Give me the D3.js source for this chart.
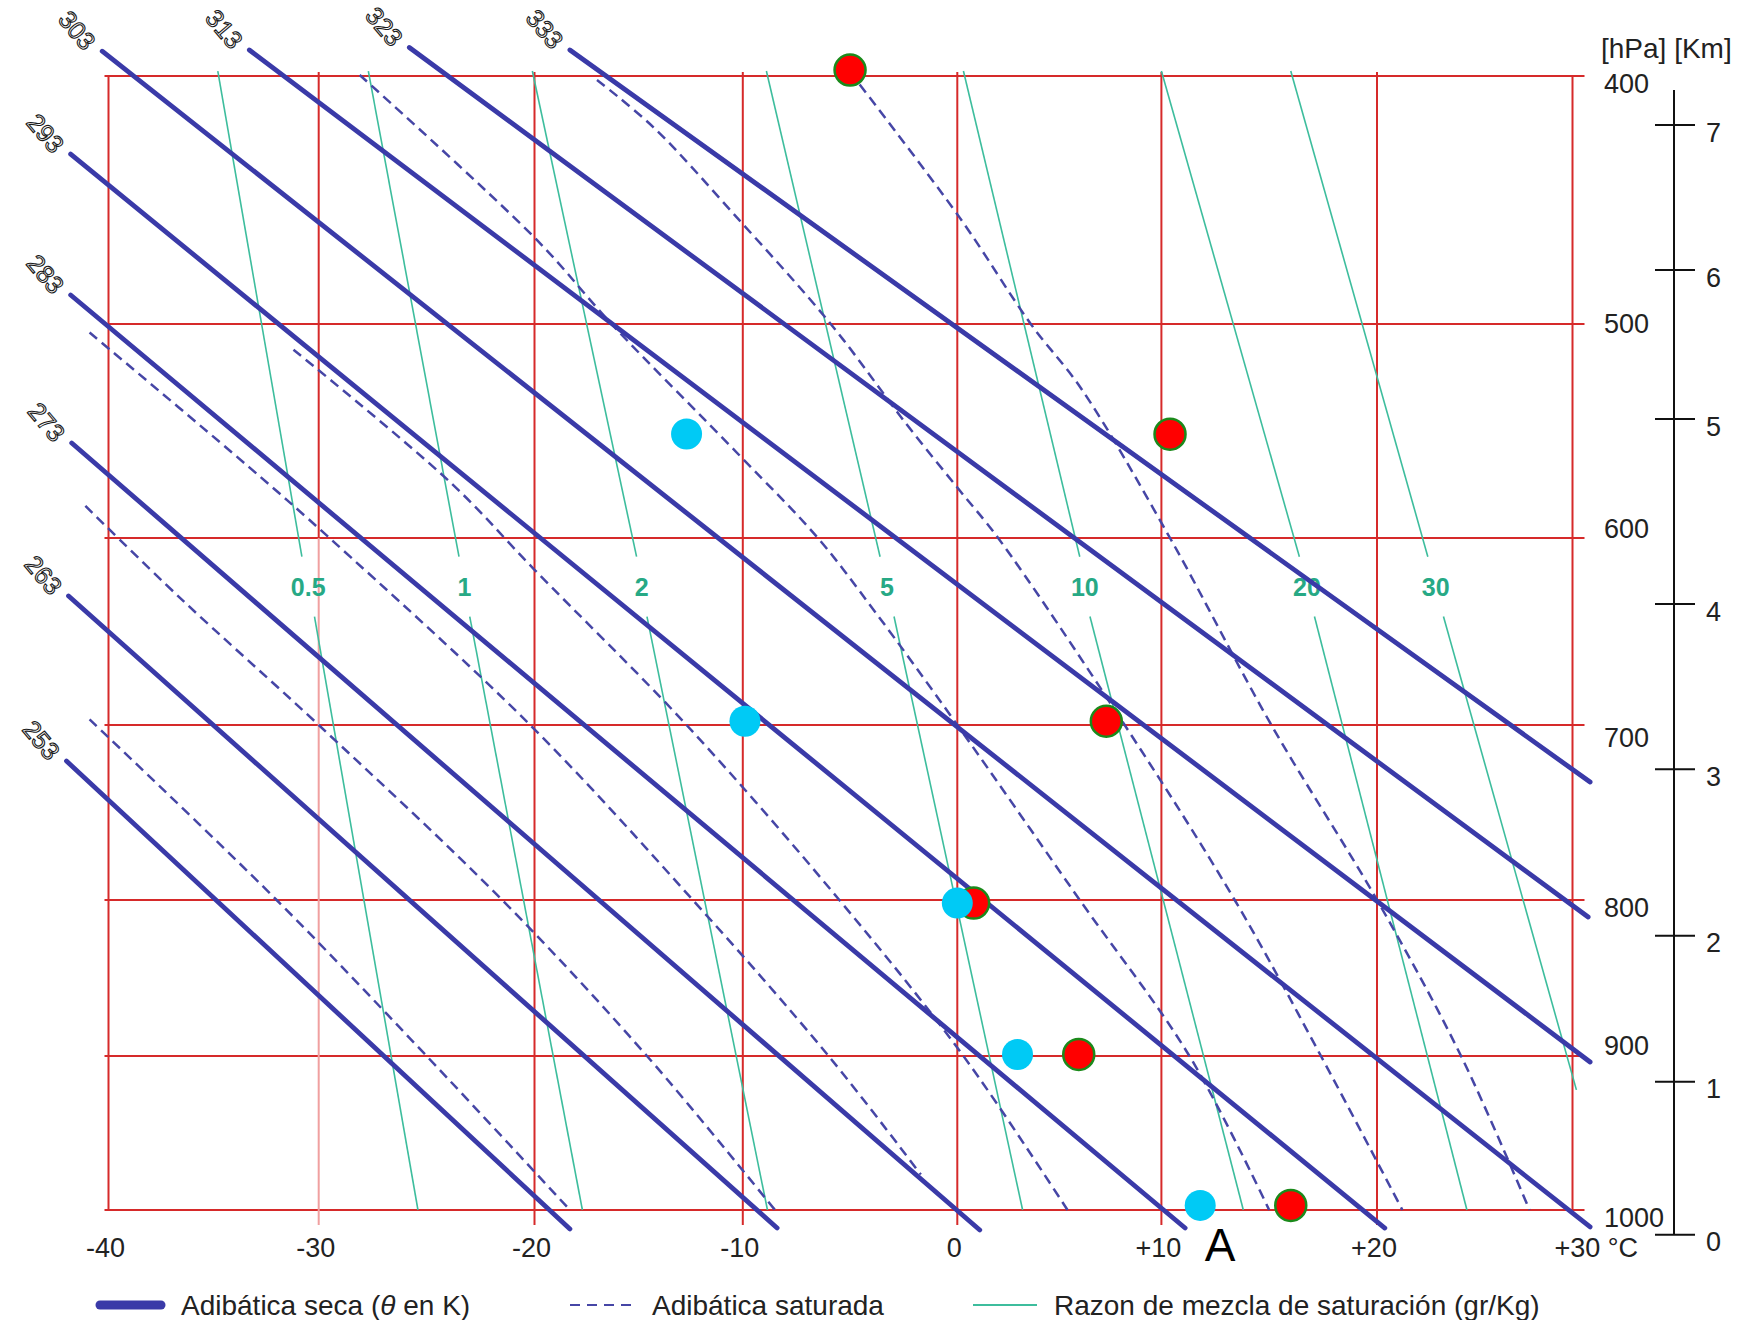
<!DOCTYPE html>
<html><head><meta charset="utf-8">
<script src="https://cdn.jsdelivr.net/npm/d3@7"></script>
<style>
html,body{margin:0;padding:0;background:#fff;}
svg{display:block;}
text{font-family:"Liberation Sans",Arial,sans-serif;}
</style></head><body>
<svg id="chart" width="1753" height="1320"></svg>
<script>
// ---------- data ----------
const tempTicks = [-40, -30, -20, -10, 0, 10, 20, 30];
const tempLabels = ["-40", "-30", "-20", "-10", "0", "+10", "+20", "+30 °C"];
const pressureTicks = [400, 500, 600, 700, 800, 900, 1000];
const kmTicks = [0, 1, 2, 3, 4, 5, 6, 7];
const kmPressure = [1016, 916.7, 822.9, 725.3, 635.3, 544.4, 478.2, 419.8];

const thetaLabels = [253, 263, 273, 283, 293, 303, 313, 323, 333];
const dryStartT = [-42.0, -41.9, -41.75, -41.8, -41.8, -40.3, -33.3, -25.8, -18.3];
const dryStartP = [720.6, 631, 555.6, 488.3, 431.5, 390, 389.5, 388.5, 389.5];
const dryEndT = [-18.3, -8.4, 1.1, 11.1, 20.4, 30.9, 30.9, 30.8, 30.9];
const dryEndP = [1012.3, 1011.7, 1013, 1011.7, 1011.7, 1011, 903.9, 810.9, 732.6];

const satP = [
  [697, 800, 900, 1000],
  [585, 632, 700, 800, 900, 1000],
  [504, 567, 600, 700, 800, 900, 977],
  [512, 574, 617, 700, 800, 900, 1000],
  [399.6, 466, 500, 562, 600, 640, 700, 800, 900, 1000],
  [401.6, 420.6, 456.9, 500, 546.4, 577.6, 600, 700, 800, 900, 1000],
  [398.4, 456.9, 500, 530.6, 600, 700, 800, 900, 1000]
];
const satT = [
  [-40.9, -32.0, -25.0, -18.3],
  [-41.1, -36.6, -30.0, -21.5, -14.6, -8.5],
  [-40.9, -33.3, -29.5, -20.2, -12.4, -6.0, -1.7],
  [-31.2, -23.9, -20.0, -12.7, -5.5, 0.3, 5.4],
  [-28.1, -19.9, -16.3, -10.1, -6.5, -3.8, 0.0, 6.0, 11.3, 15.0],
  [-17.0, -14.3, -10.3, -5.9, -2.4, 0.1, 2.0, 8.2, 13.4, 17.4, 21.3],
  [-5.0, 0.1, 3.6, 6.1, 10.4, 15.1, 20.0, 24.3, 27.8]
];

const mixLabels = ["0.5", "1", "2", "5", "10", "20", "30"];
const mixTopP = 398, mixGapTopP = 610, mixGapBottomP = 642;
const mixTopT = [-34.8, -27.7, -20.1, -8.9, 0.3, 10.0, 16.0];
const mixUpperT = [-30.8, -23.5, -15.1, -3.6, 6.0, 16.4, 22.6];
const mixLowerT = [-30.2, -23.0, -14.6, -2.95, 6.5, 17.1, 23.4];
const mixBottomT = [-25.4, -17.7, -8.85, 3.2, 13.8, 24.6, 30.2];
const mixBottomP = [1000, 1000, 1000, 1000, 1000, 1000, 922];

const redT = [-5.0, 10.4, 7.3, 0.8, 5.95, 16.0];
const redP = [397.6, 551.5, 698, 802, 899, 997];
const cyanT = [-12.7, -9.9, 0.0, 2.95, 11.8];
const cyanP = [551.4, 698, 802, 899, 997];
const annotationText = "A";

const legendItems = ["Adibática seca", "Adibática saturada", "Razon de mezcla de saturación (gr/Kg)"];

// ---------- layout ----------
const svg = d3.select("#chart");
const x = d3.scaleLinear().domain(tempTicks).range([108.5, 318.7, 534.5, 742.8, 957.3, 1161.4, 1377, 1572.5]);
const y = d3.scaleLinear().domain(pressureTicks).range([76, 324, 538, 725, 900, 1056, 1210]);

const RED = "#d62a2a", BLUE = "#3a3aa8", DBLUE = "#4646a6", GREEN = "#3dbd9d", GTEXT = "#27a985", TXT = "#222";

// grid
const grid = svg.append("g");
grid.selectAll("line.h").data(pressureTicks).enter().append("line")
  .attr("x1", x(-40) - 4).attr("x2", x(30) + 12)
  .attr("y1", d => y(d)).attr("y2", d => y(d))
  .attr("stroke", RED).attr("stroke-width", 2);
tempTicks.forEach(t => {
  const edge = (t === -40 || t === 30);
  const y1 = edge ? y(400) : y(400) - 4;
  const y2 = edge ? y(1000) : y(1000) + 15;
  if (t === -30) {
    grid.append("line").attr("x1", x(t)).attr("x2", x(t)).attr("y1", y1).attr("y2", y(600))
      .attr("stroke", RED).attr("stroke-width", 2);
    grid.append("line").attr("x1", x(t)).attr("x2", x(t)).attr("y1", y(600)).attr("y2", y2)
      .attr("stroke", "#f0a0a0").attr("stroke-width", 2);
  } else {
    grid.append("line").attr("x1", x(t)).attr("x2", x(t)).attr("y1", y1).attr("y2", y2)
      .attr("stroke", RED).attr("stroke-width", 2);
  }
});

// mixing ratio lines
const mix = svg.append("g");
mixLabels.forEach((lab, i) => {
  mix.append("line").attr("x1", x(mixTopT[i])).attr("y1", y(mixTopP))
    .attr("x2", x(mixUpperT[i])).attr("y2", y(mixGapTopP))
    .attr("stroke", GREEN).attr("stroke-width", 1.6);
  mix.append("line").attr("x1", x(mixLowerT[i])).attr("y1", y(mixGapBottomP))
    .attr("x2", x(mixBottomT[i])).attr("y2", y(mixBottomP[i]))
    .attr("stroke", GREEN).attr("stroke-width", 1.6);
  mix.append("text")
    .attr("x", (x(mixUpperT[i]) + x(mixLowerT[i])) / 2)
    .attr("y", (y(mixGapTopP) + y(mixGapBottomP)) / 2)
    .attr("dy", "0.36em").attr("text-anchor", "middle")
    .attr("font-size", 25).attr("font-weight", "bold").attr("fill", GTEXT)
    .text(lab);
});

// saturated adiabats
const curve = d3.line().x(d => x(d[0])).y(d => y(d[1])).curve(d3.curveCatmullRom.alpha(0.5));
satT.forEach((ts, i) => {
  svg.append("path").datum(ts.map((t, j) => [t, satP[i][j]]))
    .attr("d", curve).attr("fill", "none")
    .attr("stroke", DBLUE).attr("stroke-width", 2.5).attr("stroke-dasharray", "10,6");
});

// dry adiabats
const dry = svg.append("g");
thetaLabels.forEach((th, i) => {
  const x1 = x(dryStartT[i]), y1 = y(dryStartP[i]);
  dry.append("line").attr("x1", x1).attr("y1", y1)
    .attr("x2", x(dryEndT[i])).attr("y2", y(dryEndP[i]))
    .attr("stroke", BLUE).attr("stroke-width", 4.8).attr("stroke-linecap", "round");
  dry.append("text")
    .attr("transform", `translate(${x1 - 25},${y1 - 21}) rotate(50)`)
    .attr("text-anchor", "middle").attr("dy", "0.36em")
    .attr("font-size", 25).attr("fill", "#fff").attr("stroke", "#1a1a1a").attr("stroke-width", 1.1)
    .text(th);
});

// points
svg.selectAll("circle.red").data(redT).enter().append("circle")
  .attr("cx", (d) => x(d)).attr("cy", (d, i) => y(redP[i])).attr("r", 15.5)
  .attr("fill", "#ff0000").attr("stroke", "#1b8a1b").attr("stroke-width", 2.5);
svg.selectAll("circle.cyan").data(cyanT).enter().append("circle")
  .attr("cx", (d) => x(d)).attr("cy", (d, i) => y(cyanP[i])).attr("r", 15.5)
  .attr("fill", "#00caf5");
const last = cyanT.length - 1;
svg.append("text").attr("x", x(cyanT[last]) + 20).attr("y", y(cyanP[last]) + 56)
  .attr("text-anchor", "middle").attr("font-size", 46).attr("fill", "#000").text(annotationText);

// temperature labels
svg.selectAll("text.tl").data(tempTicks).enter().append("text")
  .attr("x", (d, i) => i === tempTicks.length - 1 ? x(d) - 18 : x(d) - 3)
  .attr("y", 1257)
  .attr("text-anchor", (d, i) => i === tempTicks.length - 1 ? "start" : "middle")
  .attr("font-size", 27).attr("fill", TXT)
  .text((d, i) => tempLabels[i]);

// pressure labels
const pLabelDy = [17, 9, 0, 22, 17, -1, 17];
svg.selectAll("text.pl").data(pressureTicks).enter().append("text")
  .attr("x", 1604).attr("y", (d, i) => y(d) + pLabelDy[i])
  .attr("font-size", 27).attr("fill", TXT).text(d => d);
svg.append("text").attr("x", 1601).attr("y", 58).attr("font-size", 28).attr("fill", TXT).text("[hPa] [Km]");

// km axis
const kmX = 1674;
svg.append("line").attr("x1", kmX).attr("x2", kmX).attr("y1", 90).attr("y2", y(kmPressure[0]))
  .attr("stroke", "#111").attr("stroke-width", 2);
kmTicks.forEach((k, i) => {
  const yy = y(kmPressure[i]);
  svg.append("line").attr("x1", kmX - 19).attr("x2", kmX + 21).attr("y1", yy).attr("y2", yy)
    .attr("stroke", "#111").attr("stroke-width", 2);
  svg.append("text").attr("x", 1706).attr("y", yy + 7).attr("dy", "0.36em")
    .attr("font-size", 27).attr("fill", TXT).text(k);
});

// legend
const lg = svg.append("g");
lg.append("line").attr("x1", 100).attr("x2", 161).attr("y1", 1305).attr("y2", 1305)
  .attr("stroke", BLUE).attr("stroke-width", 9).attr("stroke-linecap", "round");
const t1 = lg.append("text").attr("x", 181).attr("y", 1315).attr("font-size", 28).attr("fill", TXT);
t1.append("tspan").text(legendItems[0] + " (");
t1.append("tspan").attr("font-style", "italic").text("θ");
t1.append("tspan").text(" en K)");
lg.append("line").attr("x1", 570).attr("x2", 637).attr("y1", 1305).attr("y2", 1305)
  .attr("stroke", DBLUE).attr("stroke-width", 2).attr("stroke-dasharray", "10,7");
lg.append("text").attr("x", 652).attr("y", 1315).attr("font-size", 28).attr("fill", TXT).text(legendItems[1]);
lg.append("line").attr("x1", 973).attr("x2", 1037).attr("y1", 1305).attr("y2", 1305)
  .attr("stroke", GREEN).attr("stroke-width", 2);
lg.append("text").attr("x", 1054).attr("y", 1315).attr("font-size", 28).attr("fill", TXT).text(legendItems[2]);
</script>
</body></html>
